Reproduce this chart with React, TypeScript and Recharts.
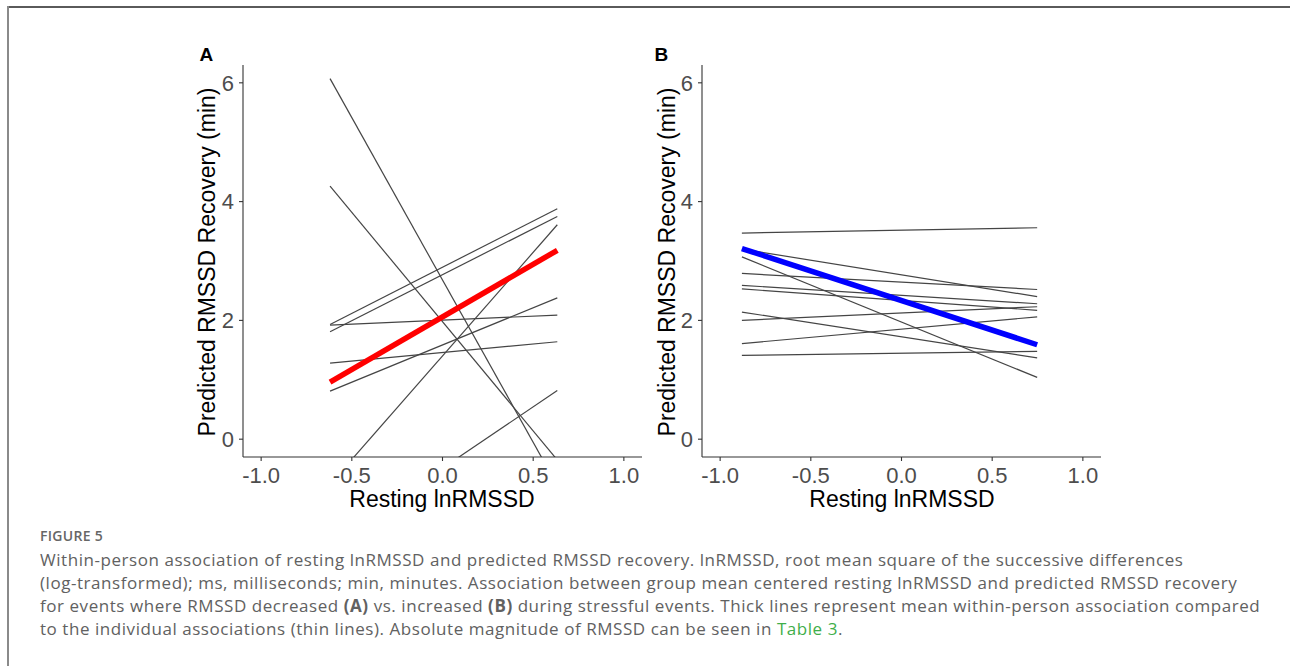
import { Line, LineChart, XAxis, YAxis } from "recharts"

// x positions where each fitted line starts / ends
const xRangeA = [-0.62, 0.633]
const xRangeB = [-0.88, 0.748]

// panel A: individual slopes (start, end) and the mean slope
const startsA = [6.07, 4.26, 1.93, 1.81, 1.92, 0.81, 1.28, -0.76, -1.77]
const endsA = [-0.78, -0.35, 3.88, 3.75, 2.09, 2.38, 1.64, 3.61, 0.82]
const meanA = [0.96, 3.18]

// panel B
const startsB = [3.47, 3.2, 3.07, 2.79, 2.59, 2.53, 2.14, 2.0, 1.61, 1.41]
const endsB = [3.56, 2.4, 1.04, 2.52, 2.28, 2.17, 1.37, 2.23, 2.06, 1.48]
const meanB = [3.21, 1.59]

const xTicks = [-1, -0.5, 0, 0.5, 1]
const yTicks = [0, 2, 4, 6]

const yTitle = "Predicted RMSSD Recovery (min)"
const xTitle = "Resting lnRMSSD"

const captionLines = [
  "Within-person association of resting lnRMSSD and predicted RMSSD recovery. lnRMSSD, root mean square of the successive differences",
  "(log-transformed); ms, milliseconds; min, minutes. Association between group mean centered resting lnRMSSD and predicted RMSSD recovery",
]

const FONT = '"Liberation Sans", Arial, sans-serif'
const CAPTION_FONT = '"Open Sans", "Noto Sans", sans-serif'

const seg = (xs: number[], a: number, b: number) => [
  { x: xs[0], y: a },
  { x: xs[1], y: b },
]

type PanelProps = {
  left: number
  xs: number[]
  starts: number[]
  ends: number[]
  mean: number[]
  meanColor: string
}

function Panel({ left, xs, starts, ends, mean, meanColor }: PanelProps) {
  return (
    <div style={{ position: "absolute", left, top: 50 }}>
      <LineChart width={500} height={460} margin={{ top: 15, right: 8, left: 0, bottom: 0 }}>
        <XAxis
          type="number"
          dataKey="x"
          domain={[-1.1, 1.1]}
          ticks={xTicks}
          interval={0}
          allowDataOverflow
          height={53}
          tickSize={4}
          tickMargin={6}
          tickFormatter={(v: number) => v.toFixed(1)}
          axisLine={{ stroke: "#333", strokeWidth: 1.1 }}
          tickLine={{ stroke: "#333", strokeWidth: 1.1 }}
          tick={{ fill: "#4d4d4d", fontSize: 22, fontFamily: FONT }}
        />
        <YAxis
          type="number"
          domain={[-0.3, 6.3]}
          ticks={yTicks}
          interval={0}
          allowDataOverflow
          width={93}
          tickSize={4}
          tickMargin={5}
          axisLine={{ stroke: "#333", strokeWidth: 1.1 }}
          tickLine={{ stroke: "#333", strokeWidth: 1.1 }}
          tick={{ fill: "#4d4d4d", fontSize: 22, fontFamily: FONT }}
        />
        {starts.map((s, i) => (
          <Line
            key={i}
            data={seg(xs, s, ends[i])}
            dataKey="y"
            stroke="#454545"
            strokeWidth={1.2}
            dot={false}
            activeDot={false}
            isAnimationActive={false}
          />
        ))}
        <Line
          data={seg(xs, mean[0], mean[1])}
          dataKey="y"
          stroke={meanColor}
          strokeWidth={5.5}
          dot={false}
          activeDot={false}
          isAnimationActive={false}
        />
      </LineChart>
    </div>
  )
}

export default function App() {
  return (
    <div style={{ position: "absolute", left: 0, top: 0, width: 1290, height: 666, background: "#fff", overflow: "hidden" }}>
      <div style={{ position: "absolute", left: 7, top: 6, width: 1290, height: 2, background: "#5a5a5a" }} />
      <div style={{ position: "absolute", left: 7, top: 6, width: 2, height: 670, background: "#8a8a8a" }} />

      <Panel left={150} xs={xRangeA} starts={startsA} ends={endsA} mean={meanA} meanColor="#ff0000" />
      <Panel left={609} xs={xRangeB} starts={startsB} ends={endsB} mean={meanB} meanColor="#0000ff" />

      <svg width={1290} height={666} style={{ position: "absolute", left: 0, top: 0, pointerEvents: "none" }}>
        <g fontFamily={FONT} fill="#000">
          <text x={199.5} y={60.5} fontSize={19} fontWeight={700}>A</text>
          <text x={654.5} y={60.5} fontSize={19} fontWeight={700}>B</text>
          <text x={442} y={507} fontSize={23} textAnchor="middle">{xTitle}</text>
          <text x={902} y={507} fontSize={23} textAnchor="middle">{xTitle}</text>
          <text transform="translate(215,262) rotate(-90)" fontSize={23} textAnchor="middle">{yTitle}</text>
          <text transform="translate(675,262) rotate(-90)" fontSize={23} textAnchor="middle">{yTitle}</text>
        </g>
        <g fontFamily={CAPTION_FONT} fill="#616161" fontSize={17} letterSpacing={0.55}>
          <text x={40} y={541} fontSize={14} fontWeight={600} letterSpacing={0.3} fill="#666">FIGURE 5</text>
          <text x={40} y={566}>{captionLines[0]}</text>
          <text x={40} y={589}>{captionLines[1]}</text>
          <text x={40} y={612}>
            for events where RMSSD decreased <tspan fontWeight={700}>(A)</tspan> vs. increased{" "}
            <tspan fontWeight={700}>(B)</tspan> during stressful events. Thick lines represent mean within-person association compared
          </text>
          <text x={40} y={635}>
            to the individual associations (thin lines). Absolute magnitude of RMSSD can be seen in{" "}
            <tspan fill="#3fae4a">Table 3</tspan>.
          </text>
        </g>
      </svg>
    </div>
  )
}
